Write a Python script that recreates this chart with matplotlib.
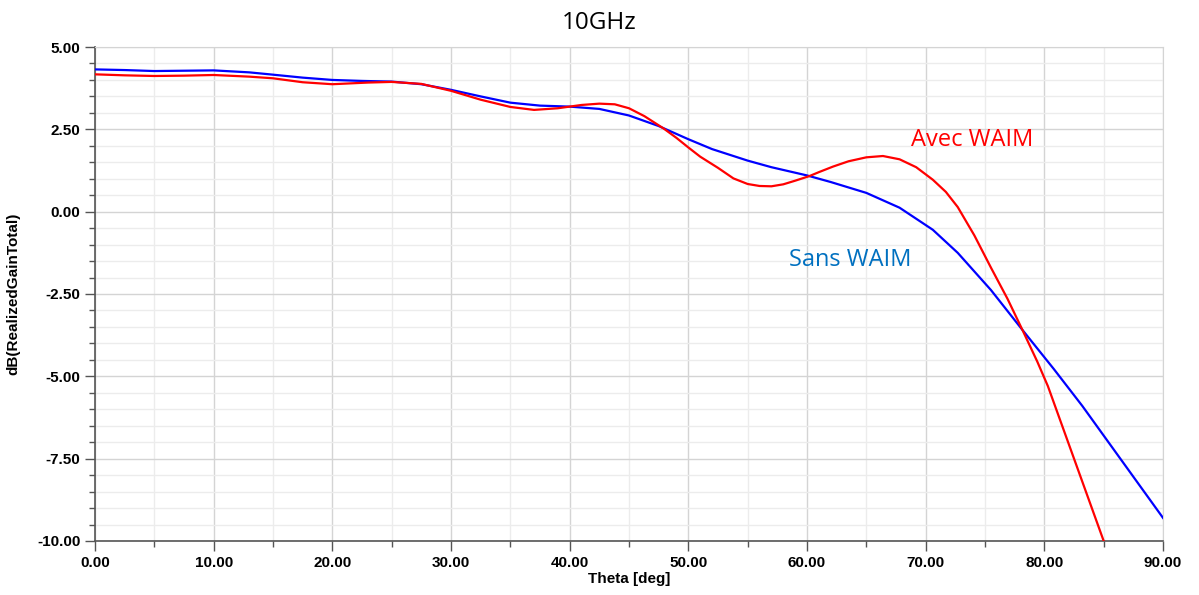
import matplotlib.pyplot as plt
from matplotlib.ticker import MultipleLocator, FormatStrFormatter

# Sans WAIM (blue)
theta_sans = [0, 2.5, 5, 7.5, 10, 13, 15, 17.5, 20, 22.5, 25, 27.5, 30, 32.5, 35, 37.5, 40,
              42.5, 45, 47.5, 50, 52, 55, 57, 60, 62, 65, 67.8, 70.6, 72.7, 75.5, 78.15,
              80.8, 83.2, 86.1, 90]
gain_sans = [4.32, 4.30, 4.27, 4.28, 4.29, 4.23, 4.16, 4.07, 4.00, 3.97, 3.95, 3.87, 3.70,
             3.50, 3.31, 3.22, 3.19, 3.12, 2.92, 2.60, 2.20, 1.90, 1.55, 1.35, 1.10, 0.90,
             0.57, 0.12, -0.55, -1.25, -2.38, -3.59, -4.78, -5.90, -7.35, -9.30]

# Avec WAIM (red)
theta_avec = [0, 2.5, 5, 7.5, 10, 13, 15, 17.5, 20, 23, 25, 27.5, 30, 32.5, 35, 37, 39,
              41, 42.5, 43.8, 45, 46.3, 47.9, 49, 50, 51, 52.5, 53.8, 55, 56, 57, 58, 59,
              60.2, 61, 62.2, 63.5, 65, 66.4, 67.8, 69.2, 70.6, 71.7, 72.7, 74.1, 75.5,
              76.9, 78.15, 79.4, 80.3, 82.2, 85.0, 86]
gain_avec = [4.17, 4.14, 4.12, 4.13, 4.15, 4.10, 4.05, 3.93, 3.87, 3.92, 3.94, 3.88, 3.67,
             3.40, 3.18, 3.09, 3.14, 3.24, 3.28, 3.26, 3.14, 2.90, 2.53, 2.24, 1.95, 1.67,
             1.33, 1.01, 0.84, 0.78, 0.77, 0.83, 0.94, 1.08, 1.20, 1.37, 1.53, 1.65, 1.69,
             1.59, 1.35, 0.97, 0.60, 0.14, -0.72, -1.70, -2.65, -3.59, -4.55, -5.30, -7.20,
             -10.0, -11.0]

fig = plt.figure(figsize=(11.99, 5.95), dpi=100)
ax = fig.add_axes([0.0792, 0.0908, 0.8908, 0.8302])

ax.plot(theta_sans, gain_sans, color='#0000ff', lw=1.6, zorder=3)
ax.plot(theta_avec, gain_avec, color='#ff0000', lw=1.6, zorder=4)

ax.set_xlim(0, 90)
ax.set_ylim(-10, 5)
ax.xaxis.set_major_locator(MultipleLocator(10))
ax.xaxis.set_minor_locator(MultipleLocator(5))
ax.yaxis.set_major_locator(MultipleLocator(2.5))
ax.yaxis.set_minor_locator(MultipleLocator(0.5))
ax.xaxis.set_major_formatter(FormatStrFormatter('%.2f'))
ax.yaxis.set_major_formatter(FormatStrFormatter('%.2f'))

ax.grid(which='major', color='#d4d4d4', lw=1.0)
ax.grid(which='minor', color='#ececec', lw=1.0)
ax.set_axisbelow(True)

for s in ['left', 'bottom']:
    ax.spines[s].set_color('#555555')
    ax.spines[s].set_linewidth(1.2)
for s in ['top', 'right']:
    ax.spines[s].set_color('#d4d4d4')

ax.tick_params(which='major', length=7, width=1, color='#555555', direction='out')
ax.tick_params(which='minor', length=4, width=1, color='#555555', direction='out')
for lab in ax.get_xticklabels() + ax.get_yticklabels():
    lab.set_fontweight('bold')
    lab.set_fontsize(11)
    lab.set_family('Liberation Sans')

ax.set_xlabel('Theta [deg]', fontsize=11, fontweight='bold', family='Liberation Sans', labelpad=2)
ax.set_ylabel('dB(RealizedGainTotal)', fontsize=11, fontweight='bold', family='Liberation Sans',
              labelpad=12)

fig.text(0.5, 0.962, '10GHz', ha='center', va='center', fontsize=17.5, family='Open Sans')

ax.text(73.9, 2.17, 'Avec WAIM', color='#ff0000', fontsize=17, family='Open Sans',
        ha='center', va='center')
ax.text(63.6, -1.47, 'Sans WAIM', color='#0070c0', fontsize=17, family='Open Sans',
        ha='center', va='center')

fig.savefig('out.png', dpi=100)
